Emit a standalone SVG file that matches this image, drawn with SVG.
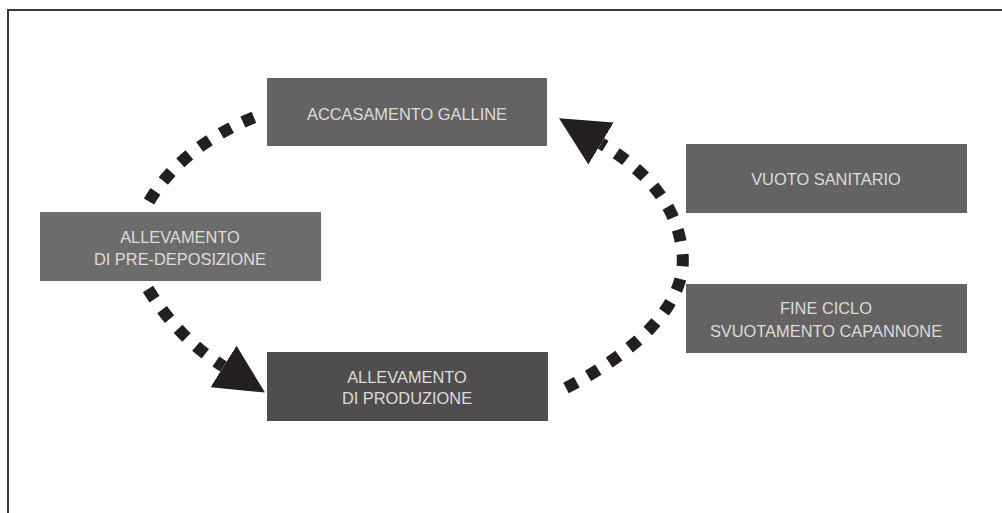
<svg xmlns="http://www.w3.org/2000/svg" width="1002" height="513" viewBox="0 0 1002 513">
<style>
.box{fill:#646263}
.lbl{font-family:"Liberation Sans",Arial,sans-serif;font-size:16.4px;fill:#dcdcdc;text-anchor:middle}
.dots{fill:none;stroke:#231f20;stroke-width:12;stroke-dasharray:12 13}
.frame{fill:none;stroke:#3a3a3a;stroke-width:2}
</style>
<defs>
<marker id="arrow" markerUnits="userSpaceOnUse" viewBox="0 0 49 49" refX="0" refY="24.5" markerWidth="49" markerHeight="49" orient="auto">
<path d="M0,0 L49,24.5 L0,49 Z" fill="#231f20"/>
</marker>
</defs>
<rect width="1002" height="513" fill="#ffffff"/>
<path class="frame" d="M8,513 L8,10 L1002,10"/>
<g id="connectors">
<path class="dots" d="M149,201.5 Q182,146 257,116"/>
<path class="dots" d="M148,289 Q178,338 223.5,366.5" marker-end="url(#arrow)"/>
<path class="dots" d="M566,388 C640,350 690,300 682,250 C676,200 640,167 601,143.5" marker-end="url(#arrow)"/>
</g>
<g id="accasamento">
<rect class="box" x="267" y="78" width="280" height="68"/>
<text class="lbl" x="407" y="120">ACCASAMENTO GALLINE</text>
</g>
<g id="vuoto">
<rect class="box" x="686" y="144" width="281" height="69"/>
<text class="lbl" x="826" y="185">VUOTO SANITARIO</text>
</g>
<g id="fineciclo">
<rect class="box" x="686" y="284" width="281" height="69"/>
<text class="lbl" x="826" y="314">FINE CICLO</text>
<text class="lbl" x="826" y="337">SVUOTAMENTO CAPANNONE</text>
</g>
<g id="predeposizione">
<rect x="40" y="212" width="281" height="69" fill="#6d6c6c"/>
<text class="lbl" x="180" y="243">ALLEVAMENTO</text>
<text class="lbl" x="180" y="265">DI PRE-DEPOSIZIONE</text>
</g>
<g id="produzione">
<rect x="267" y="352" width="281" height="69" fill="#4f4d4e"/>
<text class="lbl" x="407" y="382.5">ALLEVAMENTO</text>
<text class="lbl" x="407" y="403.5">DI PRODUZIONE</text>
</g>
</svg>
